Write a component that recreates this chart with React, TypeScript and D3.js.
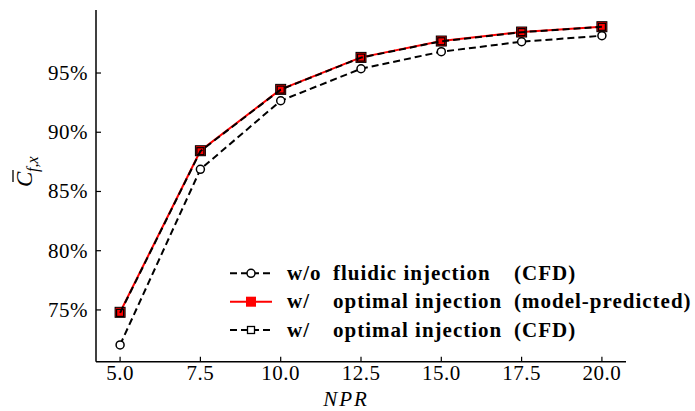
import React from "react";
import * as d3 from "d3";

const npr = [5, 7.5, 10, 12.5, 15, 17.5, 20];
const woInjectionCFD = [72.05, 86.87, 92.66, 95.36, 96.8, 97.64, 98.15];
const optimalModel = [74.8, 88.44, 93.62, 96.32, 97.7, 98.46, 98.91];
const optimalCFD = [74.75, 88.4, 93.6, 96.3, 97.68, 98.45, 98.9];
const xTicks = [5, 7.5, 10, 12.5, 15, 17.5, 20];
const yTicks = [75, 80, 85, 90, 95];

const W = 695;
const H = 411;
const m = { left: 96, right: 626, top: 10, bottom: 361.7 };

const serif = { fontFamily: "'Liberation Serif', 'Times New Roman', serif" };

export default function App() {
  const x = d3.scaleLinear().domain([4.25, 20.75]).range([m.left, m.right]);
  const y = d3.scaleLinear().domain([70.63, 100.32]).range([m.bottom, m.top]);

  const line = d3
    .line<number>()
    .x((_, i) => x(npr[i]))
    .y((d) => y(d));

  const dash = "7,4";

  const legendRows = [
    { a: "w/o", b: "fluidic injection", c: "(CFD)", kind: "circle" },
    { a: "w/", b: "optimal injection", c: "(model-predicted)", kind: "red" },
    { a: "w/", b: "optimal injection", c: "(CFD)", kind: "square" },
  ];
  const legendY = [273.3, 301.7, 330];

  return (
    <svg
      width={W}
      height={H}
      style={{ position: "absolute", left: 0, top: 0, background: "#fff" }}
    >
      {/* model-predicted, red solid */}
      <path d={line(optimalModel) || ""} fill="none" stroke="#ff0000" strokeWidth={2} />
      {optimalModel.map((d, i) => (
        <rect
          key={"r" + i}
          x={x(npr[i]) - 5}
          y={y(d) - 5}
          width={10}
          height={10}
          fill="#ff0000"
          stroke="#000"
          strokeWidth={1}
        />
      ))}
      {/* w/ optimal CFD, black dashed with open squares */}
      <path
        d={line(optimalCFD) || ""}
        fill="none"
        stroke="#000"
        strokeWidth={2}
        strokeDasharray={dash}
      />
      {optimalCFD.map((d, i) => (
        <rect
          key={"s" + i}
          x={x(npr[i]) - 3.5}
          y={y(d) - 3.5}
          width={7}
          height={7}
          fill="none"
          stroke="#000"
          strokeWidth={1.2}
        />
      ))}
      {/* w/o injection, black dashed with circles */}
      <path
        d={line(woInjectionCFD) || ""}
        fill="none"
        stroke="#000"
        strokeWidth={2}
        strokeDasharray={dash}
      />
      {woInjectionCFD.map((d, i) => (
        <circle
          key={"c" + i}
          cx={x(npr[i])}
          cy={y(d)}
          r={4}
          fill="#fff"
          stroke="#000"
          strokeWidth={1.5}
        />
      ))}

      {/* spines */}
      <line x1={m.left} x2={m.left} y1={m.top} y2={m.bottom} stroke="#000" strokeWidth={1.5} />
      <line x1={m.left} x2={m.right} y1={m.bottom} y2={m.bottom} stroke="#000" strokeWidth={1.5} />

      {/* x ticks */}
      {xTicks.map((t) => (
        <g key={"xt" + t}>
          <line x1={x(t)} x2={x(t)} y1={m.bottom} y2={m.bottom - 5} stroke="#000" strokeWidth={1.2} />
          <text x={x(t)} y={380} textAnchor="middle" style={serif} fontSize={21} letterSpacing={0.5}>
            {t.toFixed(1)}
          </text>
        </g>
      ))}
      {/* y ticks */}
      {yTicks.map((t) => (
        <g key={"yt" + t}>
          <line x1={m.left} x2={m.left + 5} y1={y(t)} y2={y(t)} stroke="#000" strokeWidth={1.2} />
          <text x={88} y={y(t) + 7} textAnchor="end" style={serif} fontSize={21} letterSpacing={0.5}>
            {t + "%"}
          </text>
        </g>
      ))}

      {/* axis labels */}
      <text
        x={346}
        y={406}
        textAnchor="middle"
        style={serif}
        fontStyle="italic"
        fontSize={21}
        letterSpacing={2}
      >
        NPR
      </text>
      <g transform="translate(32,187) rotate(-90)">
        <text x={0} y={0} style={serif} fontStyle="italic" fontSize={23}>
          C
        </text>
        <line x1={5} x2={17} y1={-19} y2={-19} stroke="#000" strokeWidth={1.3} />
        <text x={15} y={6} style={serif} fontStyle="italic" fontSize={16}>
          f,x
        </text>
      </g>

      {/* legend */}
      {legendRows.map((r, i) => {
        const ly = legendY[i];
        return (
          <g key={"lg" + i}>
            {r.kind === "red" ? (
              <>
                <line x1={230} x2={272} y1={ly} y2={ly} stroke="#ff0000" strokeWidth={2} />
                <rect x={246} y={ly - 5} width={10} height={10} fill="#ff0000" />
              </>
            ) : (
              <>
                <line
                  x1={230}
                  x2={272}
                  y1={ly}
                  y2={ly}
                  stroke="#000"
                  strokeWidth={2}
                  strokeDasharray={dash}
                />
                {r.kind === "circle" ? (
                  <circle cx={251} cy={ly} r={4} fill="#fff" stroke="#000" strokeWidth={1.5} />
                ) : (
                  <rect x={247.5} y={ly - 3.5} width={7} height={7} fill="#fff" stroke="#000" strokeWidth={1.3} />
                )}
              </>
            )}
            <text y={ly + 6.5} style={serif} fontWeight="bold" fontSize={21} letterSpacing={1}>
              <tspan x={287}>{r.a}</tspan>
              <tspan x={333}>{r.b}</tspan>
              <tspan x={514}>{r.c}</tspan>
            </text>
          </g>
        );
      })}
    </svg>
  );
}
